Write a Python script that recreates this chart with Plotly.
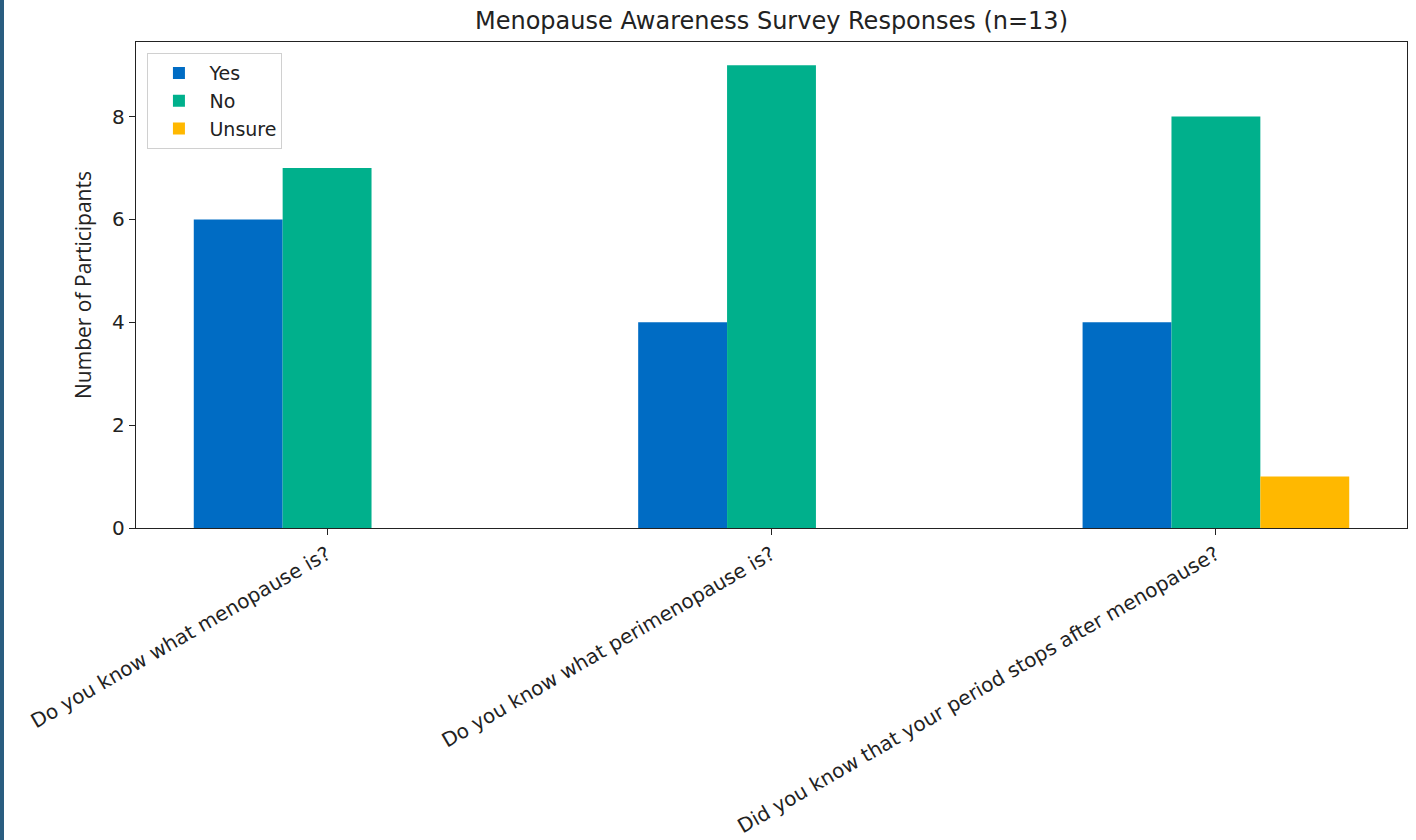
import plotly.graph_objects as go

questions = [
    "Do you know what menopause is?",
    "Do you know what perimenopause is?",
    "Did you know that your period stops after menopause?",
]
yes_counts = [6, 4, 4]
no_counts = [7, 9, 8]
unsure_counts = [0, 0, 1]
series_names = ["Yes", "No", "Unsure"]
series_colors = ["#006cc4", "#00b08c", "#ffb800"]
y_ticks = [0, 2, 4, 6, 8]

x_pos = list(range(len(questions)))
fig = go.Figure()
for name, vals, col in zip(series_names, [yes_counts, no_counts, unsure_counts], series_colors):
    fig.add_trace(go.Bar(x=x_pos, y=vals, name=name, marker=dict(color=col, line=dict(width=0))))

font_family = "DejaVu Sans"
fig.update_layout(
    width=1416, height=840,
    barmode="group", bargap=0.4, bargroupgap=0,
    plot_bgcolor="white", paper_bgcolor="white",
    margin=dict(l=136, r=9, t=42, b=312, autoexpand=False),
    font=dict(family=font_family, size=20, color="#222"),
    title=dict(text="Menopause Awareness Survey Responses (n=13)", x=0.5, xref="paper",
               y=1 - 21 / 840, yanchor="middle", font=dict(size=24, color="#222")),
    legend=dict(x=0.009, y=0.977, xanchor="left", yanchor="top", bgcolor="white",
                bordercolor="#d0d0d0", borderwidth=1, font=dict(size=19),
                tracegroupgap=2, itemwidth=51),
    showlegend=True,
)
fig.update_xaxes(range=[-0.43, 2.43], tickmode="array", tickvals=x_pos, ticktext=questions,
                 tickangle=-30, tickfont=dict(size=20), automargin=False,
                 showline=True, linecolor="#222", linewidth=1.3, mirror=True,
                 ticks="outside", ticklen=6, tickcolor="#222", showgrid=False, zeroline=False)
fig.update_yaxes(range=[0, 9.45], tickmode="array", tickvals=y_ticks, automargin=False,
                 title=dict(text="Number of Participants", standoff=14,
                            font=dict(family="Open Sans", size=21)),
                 showline=True, linecolor="#222", linewidth=1.3, mirror=True,
                 ticks="outside", ticklen=6, tickcolor="#222", showgrid=False, zeroline=False)
# dark strip at left edge of screenshot
fig.add_shape(type="rect", xref="paper", yref="paper", x0=-136 / 1271, x1=-132 / 1271,
              y0=-312 / 486, y1=1 + 42 / 486, fillcolor="#2a5d80", line=dict(width=0), layer="above")
fig.write_html("out.html", config={"displayModeBar": False},
               post_script="document.body.style.margin='0';")
